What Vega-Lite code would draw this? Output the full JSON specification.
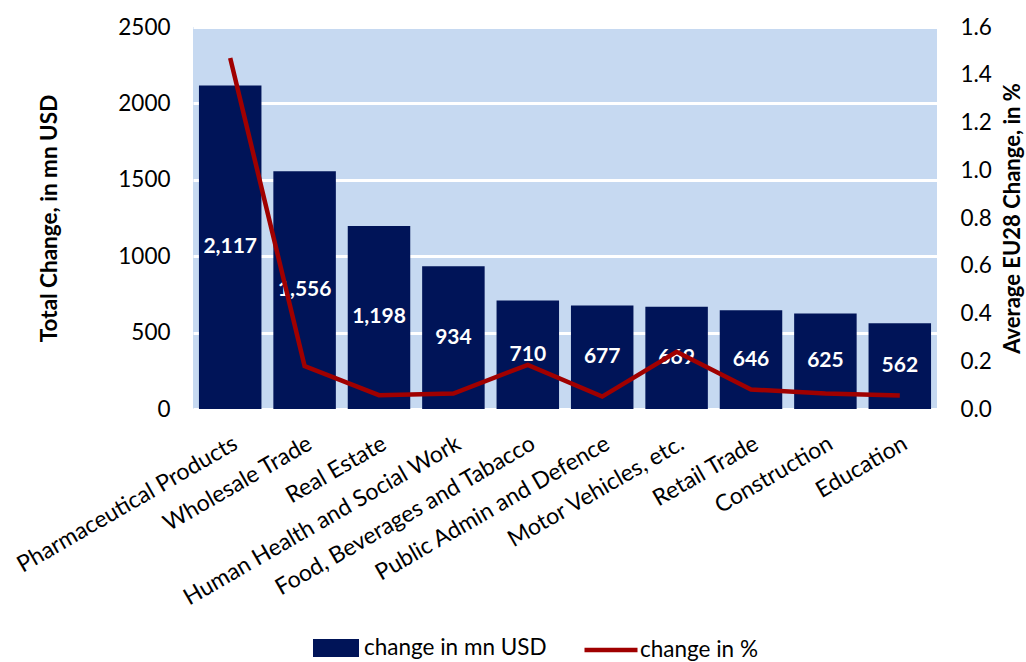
{
  "$schema": "https://vega.github.io/schema/vega-lite/v6.json",
  "autosize": {"type": "none"},
  "padding": {"left": 193, "top": 27, "right": 89, "bottom": 253},
  "width": 744,
  "height": 382,
  "background": "white",
  "config": {
    "font": "Lato",
    "view": {"fill": "#C6D9F1", "stroke": null},
    "axis": {"labelFont": "Lato", "titleFont": "Lato", "labelColor": "black", "titleColor": "black"}
  },
  "data": {
    "values": [
      {"sector": "Pharmaceutical Products", "usd": 2117, "pct": 1.47},
      {"sector": "Wholesale Trade", "usd": 1556, "pct": 0.18},
      {"sector": "Real Estate", "usd": 1198, "pct": 0.058},
      {"sector": "Human Health and Social Work", "usd": 934, "pct": 0.065},
      {"sector": "Food, Beverages and Tabacco", "usd": 710, "pct": 0.185},
      {"sector": "Public Admin and Defence", "usd": 677, "pct": 0.052},
      {"sector": "Motor Vehicles, etc.", "usd": 669, "pct": 0.24},
      {"sector": "Retail Trade", "usd": 646, "pct": 0.082},
      {"sector": "Construction", "usd": 625, "pct": 0.065},
      {"sector": "Education", "usd": 562, "pct": 0.057}
    ]
  },
  "encoding": {
    "x": {
      "field": "sector", "type": "nominal", "sort": null,
      "scale": {"paddingInner": 0.16, "paddingOuter": 0.08},
      "axis": {"title": null, "labelAngle": -30, "labelFontSize": 23, "ticks": false, "domain": false, "labelPadding": 23, "labelAlign": "right", "labelBaseline": "top", "labelLimit": 400}
    }
  },
  "layer": [
    {
      "mark": {"type": "bar"},
      "encoding": {
        "y": {
          "field": "usd", "type": "quantitative",
          "scale": {"domain": [0, 2500]},
          "axis": {"title": "Total Change, in mn USD", "titleFontSize": 22.5, "titleFontWeight": "bold", "titlePadding": 56, "values": [0, 500, 1000, 1500, 2000, 2500], "format": "d", "labelFontSize": 22.5, "labelPadding": 23, "ticks": false, "domain": false, "grid": true, "gridColor": "white", "gridWidth": 3, "gridOpacity": 1}
        },
        "fill": {
          "datum": "change in mn USD", "type": "nominal",
          "scale": {"range": ["#001458"]},
          "legend": {"title": null, "orient": "none", "legendX": 119, "legendY": 597, "symbolType": "M-1,-0.39H1V0.39H-1Z", "symbolSize": 2116, "symbolOpacity": 1, "labelFontSize": 22.5, "labelFont": "Lato", "labelColor": "black", "labelOffset": 4, "labelLimit": 400}
        }
      }
    },
    {
      "transform": [{"calculate": "datum.usd / 2", "as": "mid"}],
      "mark": {"type": "text", "color": "white", "fontWeight": "bold", "fontSize": 21, "baseline": "middle", "font": "Lato"},
      "encoding": {
        "y": {"field": "mid", "type": "quantitative", "scale": {"domain": [0, 2500]}, "axis": null},
        "text": {"field": "usd", "type": "quantitative", "format": ",d"}
      }
    },
    {
      "mark": {"type": "line", "strokeWidth": 4.5},
      "encoding": {
        "y": {
          "field": "pct", "type": "quantitative",
          "scale": {"domain": [0, 1.6]},
          "axis": {"orient": "right", "title": "Average EU28 Change, in %", "titleAngle": 270, "titleFontSize": 22, "titleFontWeight": "bold", "titlePadding": 33, "values": [0, 0.2, 0.4, 0.6, 0.8, 1.0, 1.2, 1.4, 1.6], "format": ".1f", "labelFontSize": 22.5, "labelPadding": 23, "ticks": false, "domain": false, "grid": false}
        },
        "stroke": {
          "datum": "change in %", "type": "nominal",
          "scale": {"range": ["#A00000"]},
          "legend": {"title": null, "orient": "none", "legendX": 389, "legendY": 594, "symbolType": "stroke", "symbolSize": 2809, "symbolStrokeWidth": 4.5, "labelFontSize": 22.5, "labelFont": "Lato", "labelColor": "black", "labelOffset": 0, "labelLimit": 400}
        }
      }
    }
  ],
  "resolve": {"scale": {"y": "independent", "fill": "independent", "stroke": "independent"}}
}
